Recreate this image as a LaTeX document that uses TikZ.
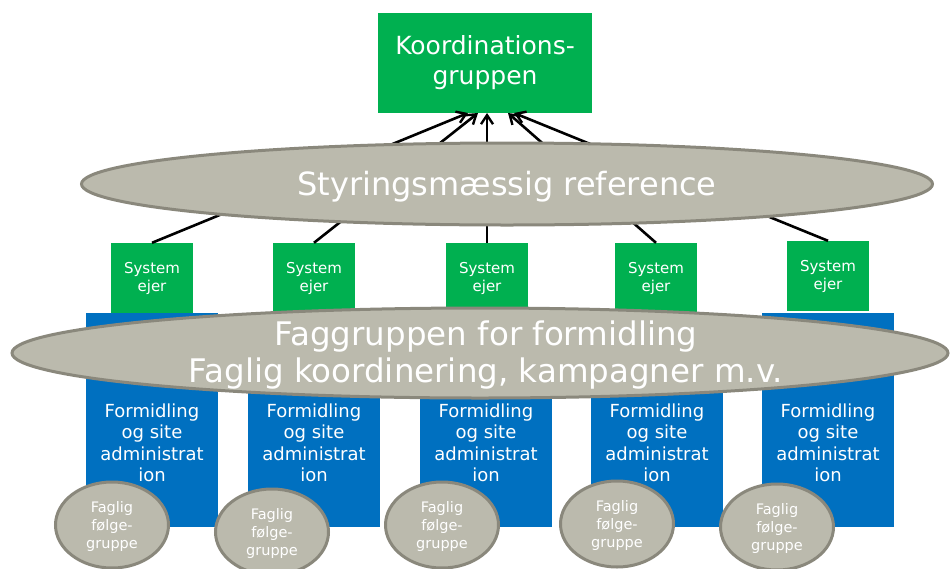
\documentclass[tikz,border=0pt]{standalone}
\usepackage{fontspec}
\setmainfont{DejaVu Sans}
\usetikzlibrary{shapes.geometric,arrows.meta}
\definecolor{kgreen}{HTML}{00B050}
\definecolor{kblue}{HTML}{0070C0}
\definecolor{kgray}{HTML}{BBBAAD}
\definecolor{kedge}{HTML}{8A887C}
\tikzset{
  greenbox/.style={fill=kgreen,draw=none,inner sep=0pt,text=white,align=center},
  bluebox/.style={fill=kblue,draw=none,inner sep=0pt,minimum width=132pt,minimum height=214pt},
  grayell/.style={ellipse,fill=kgray,draw=kedge,line width=3pt,inner sep=0pt},
  wtext/.style={text=white,align=center,inner sep=0pt},
  conn/.style={line width=2.6pt,-{Straight Barb[length=9pt,width=12pt,line width=2.4pt]}},
}
\begin{document}
\begin{tikzpicture}[x=1pt,y=-1pt]
\useasboundingbox (0,0) rectangle (950,568);
\clip (0,0) rectangle (950,568);
% top box
\node[greenbox,minimum width=214pt,minimum height=100pt,font=\fontsize{25}{30}\selectfont] (koord) at (485,63) {Koordinations-\\gruppen};
% blue boxes
\foreach \i/\x in {1/152,2/314,3/486,4/657,5/828}{
  \node[bluebox] (blue\i) at (\x,420) {};
}
% system boxes
\foreach \i/\x/\y in {1/152/278,2/314/278,3/487/278,4/656/278,5/828/276}{
  \node[greenbox,minimum width=82pt,minimum height=70pt,font=\fontsize{15}{18}\selectfont] (sys\i) at (\x,\y) {System\\ejer};
}
% target points on koord box
\coordinate (t1) at (468,113);
\coordinate (t2) at (478,113);
\coordinate (t3) at (487,113);
\coordinate (t4) at (508,113);
\coordinate (t5) at (514,113);
\foreach \i in {1,...,5}{
  \draw[conn] (sys\i.north) -- (t\i);
}
% ellipse 1
\node[grayell,minimum width=851pt,minimum height=82pt] (styr) at (507,184) {};
\node[wtext,font=\fontsize{32}{38}\selectfont] (styrtxt) at (507,187) {Styringsmæssig reference};
% blue box texts
\foreach \i/\x in {1/152,2/314,3/486,4/657,5/828}{
  \node[wtext,font=\fontsize{18}{21.5}\selectfont] (bt\i) at (\x,443) {Formidling\\og site\\administrat\\ion};
}
% ellipse 2
\node[grayell,minimum width=936pt,minimum height=90pt] (fag) at (480,353) {};
\node[wtext,font=\fontsize{32.5}{37}\selectfont] (fagtxt) at (486,355) {Faggruppen for formidling\\Faglig koordinering, kampagner m.v.};
% small ellipses
\foreach \i/\x/\y in {1/112/525,2/272/532,3/442/525,4/617/524,5/777/527}{
  \node[grayell,minimum width=113pt,minimum height=86pt] (fe\i) at (\x,\y) {};
  \node[wtext,font=\fontsize{14.5}{18}\selectfont] (ft\i) at (\x,\y+1) {Faglig\\følge-\\gruppe};
}
\end{tikzpicture}
\end{document}
